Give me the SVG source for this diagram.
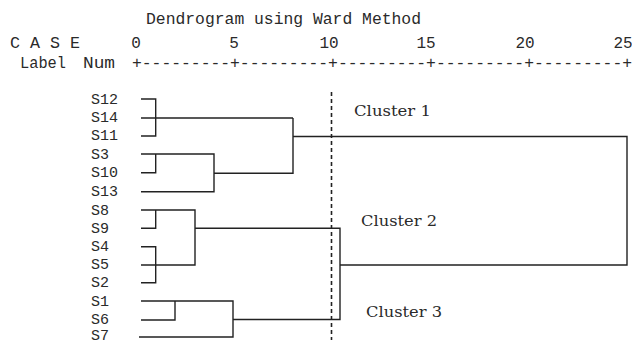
<svg xmlns="http://www.w3.org/2000/svg" width="632" height="340" viewBox="0 0 632 340">
<style>
.mono{font-family:"Liberation Mono","DejaVu Sans Mono",monospace;font-size:16px;fill:#2a2a2a}
.leaf{font-family:"Liberation Mono","DejaVu Sans Mono",monospace;font-size:15px;fill:#2a2a2a}
.cl{font-family:"DejaVu Serif","Liberation Serif",serif;font-size:15px;fill:#2a2a2a}
.ln{fill:none;stroke:#222;stroke-width:1.4}
.cut{fill:none;stroke:#222;stroke-width:1.6;stroke-dasharray:4 3}
</style>
<rect width="632" height="340" fill="#fff"/>
<g id="header">
<text class="mono" x="146" y="24" textLength="275" lengthAdjust="spacingAndGlyphs">Dendrogram using Ward Method</text>
<text class="mono" x="10" y="48" textLength="70" lengthAdjust="spacingAndGlyphs">C A S E</text>
<text class="mono" x="136" y="48" text-anchor="middle">0</text>
<text class="mono" x="234" y="48" text-anchor="middle">5</text>
<text class="mono" x="329" y="48" text-anchor="middle">10</text>
<text class="mono" x="426" y="48" text-anchor="middle">15</text>
<text class="mono" x="525" y="48" text-anchor="middle">20</text>
<text class="mono" x="623" y="48" text-anchor="middle">25</text>
<text class="mono" x="20" y="68" textLength="46" lengthAdjust="spacingAndGlyphs">Label</text>
<text class="mono" x="83" y="68" textLength="32" lengthAdjust="spacingAndGlyphs">Num</text>
<text class="mono" x="132" y="68" textLength="500" lengthAdjust="spacingAndGlyphs">+---------+---------+---------+---------+---------+</text>
</g>
<g id="leaf-S12"><text class="leaf" x="91" y="104">S12</text></g>
<g id="leaf-S14"><text class="leaf" x="91" y="122">S14</text></g>
<g id="leaf-S11"><text class="leaf" x="91" y="140">S11</text></g>
<g id="leaf-S3"><text class="leaf" x="91" y="159">S3</text></g>
<g id="leaf-S10"><text class="leaf" x="91" y="177">S10</text></g>
<g id="leaf-S13"><text class="leaf" x="91" y="196">S13</text></g>
<g id="leaf-S8"><text class="leaf" x="91" y="215">S8</text></g>
<g id="leaf-S9"><text class="leaf" x="91" y="233">S9</text></g>
<g id="leaf-S4"><text class="leaf" x="91" y="251">S4</text></g>
<g id="leaf-S5"><text class="leaf" x="91" y="269">S5</text></g>
<g id="leaf-S2"><text class="leaf" x="91" y="287">S2</text></g>
<g id="leaf-S1"><text class="leaf" x="91" y="306">S1</text></g>
<g id="leaf-S6"><text class="leaf" x="91" y="324">S6</text></g>
<g id="leaf-S7"><text class="leaf" x="91" y="340">S7</text></g>
<g id="cluster-1"><text class="cl" x="354" y="116" textLength="77" lengthAdjust="spacingAndGlyphs">Cluster 1</text></g>
<g id="cluster-2"><text class="cl" x="361" y="226" textLength="76" lengthAdjust="spacingAndGlyphs">Cluster 2</text></g>
<g id="cluster-3"><text class="cl" x="366" y="317" textLength="76" lengthAdjust="spacingAndGlyphs">Cluster 3</text></g>
<g id="connectors">
<path class="ln" d="M141 99H155.7V136H141M141 118H293"/>
<path class="ln" d="M141 154H214V191.7H141M141 172.7H155.7V154"/>
<path class="ln" d="M214 173.3H293V118M293 136.5H627V265H340"/>
<path class="ln" d="M141 210H195V265H141M141 228.3H155.7V210M141 246.7H155.7V282.7H141"/>
<path class="ln" d="M195 228.3H340V319.5H233"/>
<path class="ln" d="M141 301H233V337H139M141 320H175V301"/>
<path class="cut" d="M331.5 92V340"/>
</g>
</svg>
